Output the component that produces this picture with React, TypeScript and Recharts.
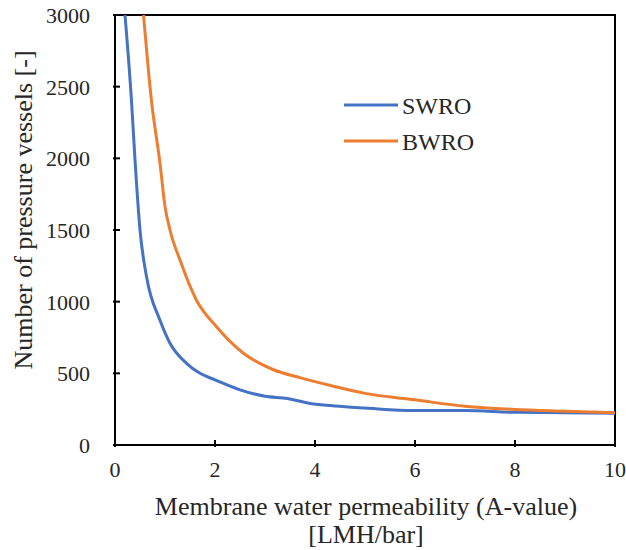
import React from "react";
import {
  LineChart,
  Line,
  XAxis,
  YAxis,
  ReferenceArea
} from "recharts";

// A-value [LMH/bar] vs number of pressure vessels
const swroX = [0.2, 0.33, 0.4, 0.5, 0.63, 0.9, 1.1, 1.43, 1.7, 2, 2.5, 3, 3.45, 3.9, 4.4, 5, 6, 7, 8, 9, 10];
const swroY = [3000, 2400, 1990, 1500, 1175, 870, 710, 570, 500, 455, 385, 340, 325, 290, 272, 258, 240, 240, 228, 225, 222];

const bwroX = [0.57, 0.73, 0.9, 1, 1.1, 1.3, 1.63, 2.03, 2.57, 3.17, 3.7, 4.37, 5, 6, 7, 8, 9, 10];
const bwroY = [3000, 2400, 1965, 1665, 1500, 1290, 1010, 825, 640, 525, 470, 410, 360, 315, 270, 248, 236, 225];

const xTicks = [0, 2, 4, 6, 8, 10];
const yTicks = [0, 500, 1000, 1500, 2000, 2500, 3000];

const seriesNames = ["SWRO", "BWRO"];
const seriesColors = ["#4472C4", "#ED7D31"];

const FONT = "Times New Roman, Liberation Serif, DejaVu Serif, serif";
const TEXT = "#262626";

const swroData = swroX.map((x, i) => ({ x, y: swroY[i] }));
const bwroData = bwroX.map((x, i) => ({ x, y: bwroY[i] }));

const XTick = (props: any) => {
  const { x, y, payload } = props;
  return (
    <g>
      <line x1={x} y1={y} x2={x} y2={y - 7} stroke="#000" strokeWidth={2} />
      <text x={x} y={y + 30} textAnchor="middle" fontFamily={FONT} fontSize={22} fill={TEXT}>
        {payload.value}
      </text>
    </g>
  );
};

const YTick = (props: any) => {
  const { x, y, payload } = props;
  return (
    <g>
      <line x1={x} y1={y} x2={x + 7} y2={y} stroke="#000" strokeWidth={2} />
      <text x={x - 23} y={y + 8} textAnchor="end" fontFamily={FONT} fontSize={22} fill={TEXT}>
        {payload.value}
      </text>
    </g>
  );
};

export default function App() {
  return (
    <div style={{ position: "absolute", left: 0, top: 0, width: 626, height: 550, background: "#fff", fontFamily: FONT }}>
      <LineChart width={626} height={550} margin={{ top: 15, right: 11, bottom: 0, left: 0 }} style={{ fontFamily: FONT }}>
        <XAxis
          type="number"
          dataKey="x"
          domain={[0, 10]}
          ticks={xTicks}
          tickSize={0}
          tickLine={false}
          tick={<XTick />}
          axisLine={{ stroke: "#000", strokeWidth: 2 }}
          height={105}
          allowDataOverflow
        />
        <YAxis
          type="number"
          dataKey="y"
          domain={[0, 3000]}
          ticks={yTicks}
          tickSize={0}
          tickLine={false}
          tick={<YTick />}
          axisLine={{ stroke: "#000", strokeWidth: 2 }}
          width={115}
          allowDataOverflow
        />
        <ReferenceArea x1={0} x2={10} y1={0} y2={3000} fill="none" stroke="#000" strokeWidth={2} ifOverflow="visible" />
        <Line data={swroData} dataKey="y" name={seriesNames[0]} type="monotone" stroke={seriesColors[0]} strokeWidth={3} dot={false} isAnimationActive={false} />
        <Line data={bwroData} dataKey="y" name={seriesNames[1]} type="monotone" stroke={seriesColors[1]} strokeWidth={3} dot={false} isAnimationActive={false} />

        {/* legend */}
        {seriesNames.map((name, i) => (
          <g key={name}>
            <line x1={344} x2={398} y1={105 + i * 36} y2={105 + i * 36} stroke={seriesColors[i]} strokeWidth={3} />
            <text x={402} y={114 + i * 36} fontFamily={FONT} fontSize={24} fill={TEXT}>
              {name}
            </text>
          </g>
        ))}

        <text transform="translate(32,210) rotate(-90)" textAnchor="middle" fontFamily={FONT} fontSize={26} fill={TEXT}>
          Number of pressure vessels [-]
        </text>
        <text x={366} y={515} textAnchor="middle" fontFamily={FONT} fontSize={26} fill={TEXT}>
          Membrane water permeability (A-value)
        </text>
        <text x={366} y={543} textAnchor="middle" fontFamily={FONT} fontSize={26} fill={TEXT}>
          [LMH/bar]
        </text>
      </LineChart>
    </div>
  );
}
